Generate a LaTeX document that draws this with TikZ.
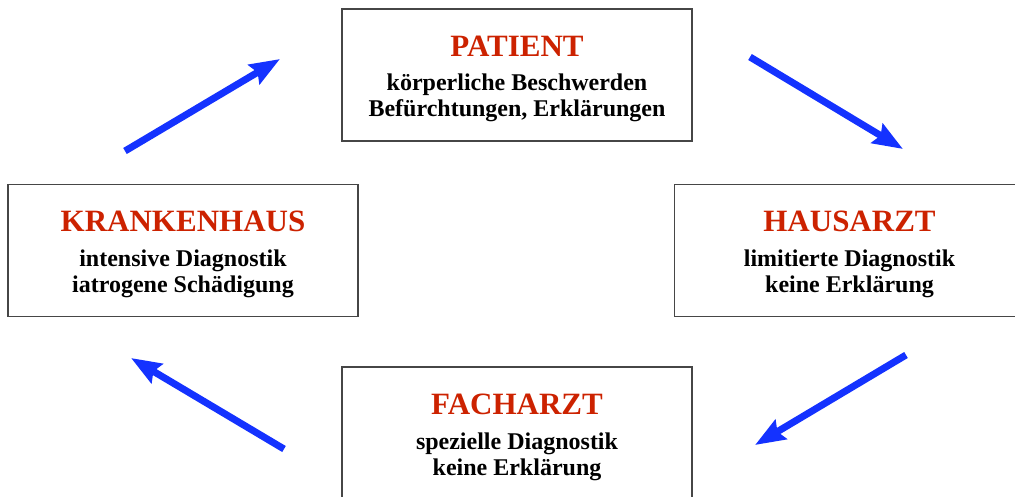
\documentclass[tikz,border=0pt]{standalone}
\usepackage{fontspec}
\setmainfont{Liberation Serif}
\usetikzlibrary{arrows.meta}
\definecolor{titlered}{RGB}{204,34,0}
\definecolor{arrowblue}{RGB}{20,50,255}
\definecolor{boxgray}{RGB}{70,70,70}
\tikzset{
  box/.style={draw=boxgray, line width=1.3pt, minimum width=350pt, minimum height=132pt, inner sep=0pt},
  ttl/.style={anchor=base, text=titlered, font=\bfseries\fontsize{31}{35}\selectfont, inner sep=0pt},
  sub/.style={anchor=base, text=black, font=\bfseries\fontsize{24}{28}\selectfont, inner sep=0pt, align=center},
  cyc/.style={draw=arrowblue, line width=7pt, -{Stealth[length=30pt, width=22pt, inset=4pt]}}
}
\begin{document}
\begin{tikzpicture}[x=1pt, y=-1pt]
\useasboundingbox (0,0) rectangle (1015,496);
\clip (0,0) rectangle (1015,496);
% boxes
\node[box] (pat) at (517,75) {};
\node[box] (kh)  at (183,250.5) {};
\node[box] (ha)  at (849.5,250.5) {};
\node[box] (fa)  at (517,433) {};
% texts
\node[ttl] (patT) at ([yshift=19pt]pat.center) {PATIENT};
\node[sub] (patA) at ([yshift=-15pt]pat.center) {körperliche Beschwerden};
\node[sub] (patB) at ([yshift=-41pt]pat.center) {Befürchtungen, Erklärungen};
\node[ttl] (khT) at ([yshift=19pt]kh.center) {KRANKENHAUS};
\node[sub] (khA) at ([yshift=-16pt]kh.center) {intensive Diagnostik};
\node[sub] (khB) at ([yshift=-42pt]kh.center) {iatrogene Schädigung};
\node[ttl] (haT) at ([yshift=19pt]ha.center) {HAUSARZT};
\node[sub] (haA) at ([yshift=-16pt]ha.center) {limitierte Diagnostik};
\node[sub] (haB) at ([yshift=-42pt]ha.center) {keine Erklärung};
\node[ttl] (faT) at ([yshift=19pt]fa.center) {FACHARZT};
\node[sub] (faA) at ([yshift=-16pt]fa.center) {spezielle Diagnostik};
\node[sub] (faB) at ([yshift=-42pt]fa.center) {keine Erklärung};
% arrows
\coordinate (a1s) at (125,151); \coordinate (a1e) at (280,59);
\coordinate (a2s) at (750,57);  \coordinate (a2e) at (903,149);
\coordinate (a3s) at (906,355); \coordinate (a3e) at (755,445);
\coordinate (a4s) at (284,449); \coordinate (a4e) at (131,358);
\draw[cyc] (a1s) -- (a1e);
\draw[cyc] (a2s) -- (a2e);
\draw[cyc] (a3s) -- (a3e);
\draw[cyc] (a4s) -- (a4e);
\end{tikzpicture}
\end{document}
